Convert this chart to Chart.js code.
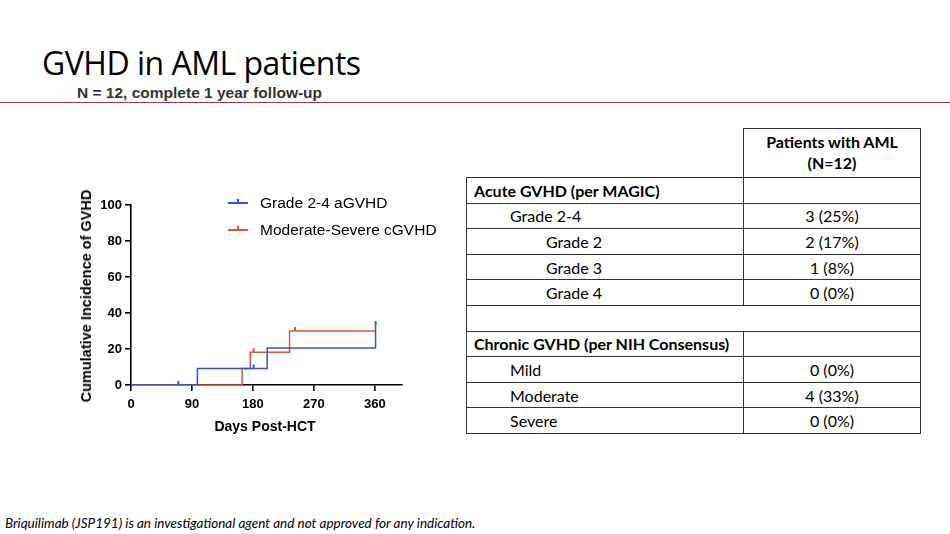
<!DOCTYPE html>
<html lang="en">
<head>
  <meta charset="UTF-8">
  <title>GVHD in AML patients</title>
  <script src="https://cdn.jsdelivr.net/npm/chart.js"></script>
  <style>
    body { margin:0; width:950px; height:534px; background:#fff; position:relative; overflow:hidden;
           font-family: Lato, "Open Sans", sans-serif; color:#000; }
    #title { position:absolute; left:42px; top:46px; font-size:32px; line-height:34px; font-family: "Open Sans", Lato, sans-serif; letter-spacing:-0.5px; }
    #sub { position:absolute; left:77px; top:85px; font:bold 15.5px "Liberation Sans", Arial, sans-serif; line-height:15px; color:#333; }
    #rule { position:absolute; left:0; top:102px; width:950px; height:1px; background:#9b3a3a; }
    #foot { position:absolute; left:5px; top:515px; font:italic 13.5px Lato, sans-serif; }
    #wrap { position:absolute; left:60px; top:185px; width:360px; height:260px; }
    #legend { position:absolute; left:228px; top:189px; font:15.5px "Liberation Sans", Arial, sans-serif; }
    #legend div { display:flex; align-items:center; height:27px; }
    #legend span.sw { display:inline-block; width:20px; height:2px; margin-right:12px; position:relative; }
    #legend span.sw:after { content:""; position:absolute; left:9px; top:-3px; width:2px; height:3px; background:inherit; }
    #ylab { position:absolute; left:86px; top:296px; transform:translate(-50%,-50%) rotate(-90deg);
            font:bold 14.5px "Liberation Sans", Arial, sans-serif; white-space:nowrap; }
    #xlab { position:absolute; left:265px; top:418px; transform:translateX(-50%);
            font:bold 14px "Liberation Sans", Arial, sans-serif; white-space:nowrap; }
    table { position:absolute; left:466px; top:128px; width:455px; border-collapse:collapse; font-size:16px; font-family: Lato, sans-serif; }
    td { border:1.5px solid #333; height:24.6px; padding:0; }
    td.v { text-align:center; width:176px; }
    td.b { font-weight:bold; padding-left:7px; }
    td.i1 { padding-left:43px; }
    td.i2 { padding-left:79px; }
    tr.hd td { height:48px; font-weight:bold; line-height:1.3; }
    tr.hd td.blank { border-top:none; border-left:none; }
  </style>
</head>
<body>
  <div id="title">GVHD in AML patients</div>
  <div id="sub">N = 12, complete 1 year follow-up</div>
  <div id="rule"></div>

  <div id="wrap"><canvas id="km"></canvas></div>
  <div id="ylab">Cumulative Incidence of GVHD</div>
  <div id="xlab">Days Post-HCT</div>
  <div id="legend"></div>

  <table id="tab"></table>

  <div id="foot">Briquilimab (JSP191) is an investigational agent and not approved for any indication.</div>

  <script>
    /* --- datos del gráfico --- */
    const seriesNames = ['Grade 2-4 aGVHD', 'Moderate-Severe cGVHD'];
    const seriesColors = ['#2f55d4', '#e0553a'];
    // pasos (día, incidencia %)
    const aDays = [0, 98, 201, 361];
    const aVals = [0, 9.1, 20.5, 33.3];
    const cDays = [0, 164, 176, 234, 361];
    const cVals = [0, 9.1, 18.2, 30, 30];
    // censurados
    const aCensDays = [70, 181, 361];
    const aCensVals = [0, 9.1, 33.3];
    const cCensDays = [181, 242];
    const cCensVals = [18.2, 30];
    const xTicks = [0, 90, 180, 270, 360];
    const yTicks = [0, 20, 40, 60, 80, 100];

    /* --- datos de la tabla --- */
    const rowLabels = ['Acute GVHD (per MAGIC)', 'Grade 2-4', 'Grade 2', 'Grade 3', 'Grade 4', '',
                       'Chronic GVHD (per NIH Consensus)', 'Mild', 'Moderate', 'Severe'];
    const rowLevels = [0, 1, 2, 2, 2, -1, 0, 1, 1, 1];
    const rowValues = ['', '3 (25%)', '2 (17%)', '1 (8%)', '0 (0%)', '', '', '0 (0%)', '4 (33%)', '0 (0%)'];

    const tab = document.getElementById('tab');
    let html = '<tr class="hd"><td class="blank"></td><td class="v">Patients with AML<br>(N=12)</td></tr>';
    rowLabels.forEach((l, i) => {
      if (rowLevels[i] < 0) { html += '<tr><td colspan="2"></td></tr>'; return; }
      const cls = ['b', 'i1', 'i2'][rowLevels[i]];
      html += `<tr><td class="${cls}">${l}</td><td class="v">${rowValues[i]}</td></tr>`;
    });
    tab.innerHTML = html;

    /* leyenda */
    document.getElementById('legend').innerHTML = seriesNames.map((n, i) =>
      `<div><span class="sw" style="background:${seriesColors[i]}"></span>${n}</div>`).join('');

    /* marca de censura: trazo vertical hacia arriba */
    function censMark (color) {
      const c = document.createElement('canvas');
      c.width = 4; c.height = 10;
      const g = c.getContext('2d');
      g.fillStyle = color;
      g.fillRect(1, 1, 2, 4);
      return c;
    }

    const pts = (xs, ys) => xs.map((x, i) => ({ x, y: ys[i] }));

    const axisCommon = {
      border: { display: true, color: '#000', width: 1.6 },
      grid: { display: true, drawOnChartArea: false, drawTicks: true, tickLength: 6, color: '#000', lineWidth: 1.6 },
      ticks: { color: '#000', font: { family: '"Liberation Sans", Arial', size: 13, weight: 'bold' }, padding: 3 }
    };

    new Chart(document.getElementById('km'), {
      type: 'line',
      data: {
        datasets: [
          { data: pts(aCensDays, aCensVals), showLine: false, pointStyle: censMark(seriesColors[0]), pointRadius: 5, order: 0 },
          { data: pts(aDays, aVals), borderColor: seriesColors[0], borderWidth: 1.5, stepped: true, pointRadius: 0, order: 1 },
          { data: pts(cCensDays, cCensVals), showLine: false, pointStyle: censMark(seriesColors[1]), pointRadius: 5, order: 2 },
          { data: pts(cDays, cVals), borderColor: seriesColors[1], borderWidth: 1.5, stepped: true, pointRadius: 0, order: 3 }
        ]
      },
      options: {
        responsive: true,
        maintainAspectRatio: false,
        animation: false,
        layout: { padding: { top: 20, right: 18, left: 0, bottom: 0 } },
        plugins: { legend: { display: false }, tooltip: { enabled: false } },
        scales: {
          x: {
            ...axisCommon, type: 'linear', min: 0, max: 400,
            ticks: { ...axisCommon.ticks, padding: 6 },
            afterBuildTicks: s => { s.ticks = xTicks.map(v => ({ value: v })); },
            afterFit: s => { s.height = 60; }
          },
          y: {
            ...axisCommon, min: 0, max: 100,
            afterBuildTicks: s => { s.ticks = yTicks.map(v => ({ value: v })); },
            afterFit: s => { s.width = 71; }
          }
        }
      }
    });
  </script>
</body>
</html>
